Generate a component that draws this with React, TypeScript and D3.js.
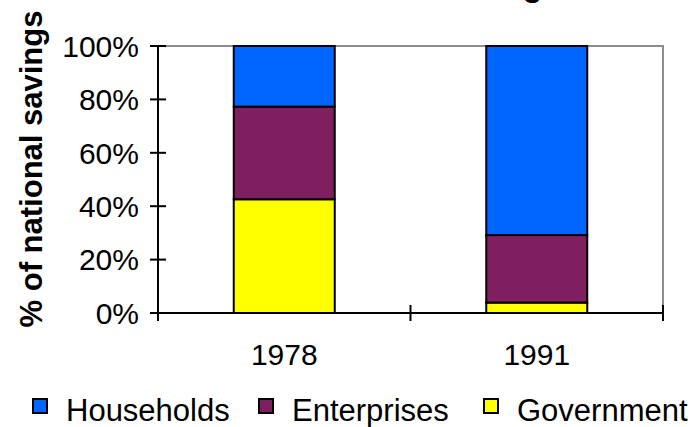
import React from "react";
import * as d3 from "d3";

const years = ["1978", "1991"];
const government = [42.6, 3.9];
const enterprises = [34.7, 25.3];
const households = [22.7, 70.8];
const yTicks = [0, 20, 40, 60, 80, 100];

const seriesNames = ["Government", "Enterprises", "Households"];
const seriesColors: Record<string, string> = {
  Households: "#0066FF",
  Enterprises: "#7F1F5F",
  Government: "#FFFF00",
};
const legendOrder = ["Households", "Enterprises", "Government"];

const W = 695;
const H = 427;
const left = 158;
const right = 663;
const top = 46;
const bottom = 313;

export default function App() {
  const rows = years.map((y, i) => ({
    year: y,
    Government: government[i],
    Enterprises: enterprises[i],
    Households: households[i],
  }));
  const stacked = d3.stack<any>().keys(seriesNames)(rows);

  const x = d3
    .scaleBand<string>()
    .domain(years)
    .range([left, right])
    .paddingInner(0.6)
    .paddingOuter(0.3);
  const y = d3.scaleLinear().domain([0, 100]).range([bottom, top]);

  const step = (right - left) / years.length;
  const catEdges = d3.range(years.length + 1).map((i) => left + i * step);

  const font = "Arial, 'Liberation Sans', Helvetica, sans-serif";
  const legendX = [33, 259, 484];

  return (
    <svg
      width={W}
      height={H}
      style={{ position: "fixed", left: 0, top: 0, background: "#fff" }}
      fontFamily={font}
    >
      <rect x={0} y={0} width={W} height={H} fill="#fff" />
      {/* title, mostly above the visible frame */}
      <text x={560} y={-4} textAnchor="end" fontSize={32} fontWeight="bold" fill="#000">
        National Savings
      </text>

      {/* plot frame: top and right in grey */}
      <path
        d={`M${left},${top}H${right}V${bottom}`}
        fill="none"
        stroke="#8c8c8c"
        strokeWidth={2}
      />

      {/* stacked bars */}
      {stacked.map((s) =>
        s.map((d, i) => (
          <rect
            key={s.key + i}
            x={x(years[i])!}
            y={y(d[1])}
            width={x.bandwidth()}
            height={y(d[0]) - y(d[1])}
            fill={seriesColors[s.key]}
            stroke="#000"
            strokeWidth={2}
          />
        ))
      )}

      {/* y axis */}
      <line x1={left} x2={left} y1={top} y2={bottom} stroke="#000" strokeWidth={2} />
      {yTicks.map((t) => (
        <g key={t}>
          <line x1={left - 8} x2={left + 8} y1={y(t)} y2={y(t)} stroke="#000" strokeWidth={2} />
          <text
            x={139}
            y={y(t)}
            dy="0.36em"
            textAnchor="end"
            fontSize={30}
            fill="#000"
          >
            {t}%
          </text>
        </g>
      ))}

      {/* x axis */}
      <line x1={left} x2={right} y1={bottom} y2={bottom} stroke="#000" strokeWidth={2} />
      {catEdges.map((e, i) => (
        <line key={i} x1={e} x2={e} y1={bottom - 8} y2={bottom + 8} stroke="#000" strokeWidth={2} />
      ))}
      {years.map((yr) => (
        <text
          key={yr}
          x={x(yr)! + x.bandwidth() / 2}
          y={365}
          textAnchor="middle"
          fontSize={30}
          fill="#000"
        >
          {yr}
        </text>
      ))}

      {/* y axis title */}
      <text
        transform={`translate(42,${169}) rotate(-90)`}
        textAnchor="middle"
        fontSize={31}
        fontWeight="bold"
        fill="#000"
      >
        % of national savings
      </text>

      {/* legend */}
      {legendOrder.map((name, i) => (
        <g key={name} transform={`translate(${legendX[i]},0)`}>
          <rect
            x={0}
            y={399}
            width={14}
            height={14}
            fill={seriesColors[name]}
            stroke="#000"
            strokeWidth={2}
          />
          <text x={33} y={421} fontSize={31} fill="#000">
            {name}
          </text>
        </g>
      ))}
    </svg>
  );
}
